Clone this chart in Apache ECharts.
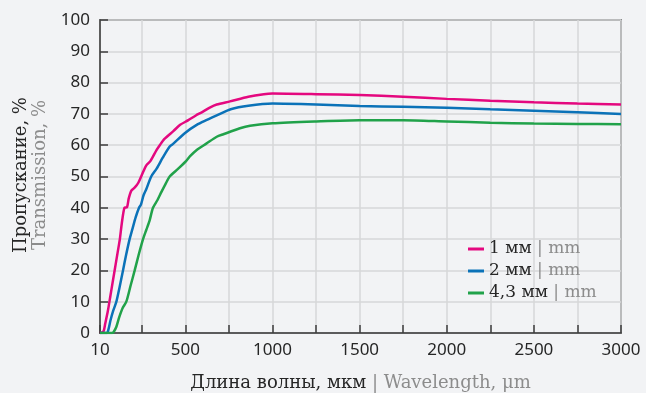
<!DOCTYPE html>
<html>
<head>
<meta charset="utf-8">
<script src="https://cdn.jsdelivr.net/npm/echarts@6/dist/echarts.min.js"></script>
<style>
  html, body { margin: 0; padding: 0; background: #f2f3f5; }
  #chart { width: 646px; height: 393px; }
</style>
</head>
<body>
<div id="chart"></div>
<script>
// Wavelength samples (µm) and transmission (%) for each plate thickness
const wl1mm = [10, 30, 40, 55, 70, 85, 100, 112, 124, 135, 150, 165, 175, 190, 210, 230, 250, 275, 300, 335, 353, 380, 431, 470, 517, 560, 594, 640, 680, 756, 861, 950, 1000, 1250, 1500, 1750, 2000, 2250, 2500, 2750, 3000];
const tr1mm = [0, 0.5, 3, 7, 12, 17, 22, 26, 30, 35, 40, 40.2, 43, 45.5, 46.5, 48, 50.5, 53.5, 55, 58.5, 60, 62, 64.5, 66.5, 68, 69.5, 70.5, 72, 73, 74, 75.5, 76.3, 76.5, 76.3, 76, 75.5, 74.8, 74.2, 73.7, 73.3, 73];

const wl2mm = [10, 50, 60, 70, 85, 104, 120, 142, 160, 180, 195, 215, 234, 245, 260, 276, 304, 335, 370, 409, 431, 500, 565, 620, 699, 760, 861, 1000, 1250, 1500, 1750, 2000, 2250, 2500, 2750, 3000];
const tr2mm = [0, 0, 1.5, 4, 7, 10, 14, 20, 25, 30, 33, 37, 40, 41, 44, 46, 50, 52.5, 56, 59.5, 60.5, 64, 66.5, 68, 70, 71.5, 72.6, 73.3, 73, 72.5, 72.3, 72, 71.5, 71, 70.5, 70];

const wl43mm = [10, 80, 90, 104, 120, 140, 161, 185, 209, 232, 257, 276, 295, 314, 340, 362, 385, 410, 459, 505, 527, 565, 620, 680, 718, 813, 871, 1000, 1250, 1500, 1750, 2000, 2250, 2500, 2750, 3000];
const tr43mm = [0, 0, 0.5, 2, 5, 8, 10, 15, 20, 25, 30, 33, 36, 40, 42.5, 45, 47.5, 50, 52.5, 55, 56.5, 58.5, 60.5, 62.7, 63.5, 65.4, 66.2, 67, 67.6, 68, 68, 67.6, 67.2, 66.9, 66.8, 66.7];

const seriesNames = ['1 мм', '2 мм', '4,3 мм'];
const seriesColors = ['#e4087f', '#0b72b8', '#21a24a'];

// Axis ticks and labels
const xLabelValues = [10, 500, 1000, 1500, 2000, 2500, 3000];
const xTickValues = [10, 250, 500, 750, 1000, 1250, 1500, 1750, 2000, 2250, 2500, 2750, 3000];

const zip = (xs, ys) => xs.map((x, i) => [x, ys[i]]);
const curves = [zip(wl1mm, tr1mm), zip(wl2mm, tr2mm), zip(wl43mm, tr43mm)];

const DARK = '#262626';
const GRAY = '#8c8c8c';
const GRID = '#d6d7d9';
const FRAME = '#3c3c3c';
const SERIF = '"DejaVu Serif", "Liberation Serif", serif';
const SANS = '"Noto Sans", "Open Sans", sans-serif';

const chart = echarts.init(document.getElementById('chart'));
chart.setOption({
  backgroundColor: '#f2f3f5',
  animation: false,
  grid: {
    left: 100, right: 25, top: 20, bottom: 60,
    show: true, borderColor: FRAME, borderWidth: 1.5, backgroundColor: 'transparent'
  },
  xAxis: {
    type: 'value', min: 10, max: 3000,
    axisLine: { show: true, lineStyle: { color: FRAME, width: 1.5 } },
    axisTick: { show: true, inside: true, length: 8, customValues: xTickValues,
                lineStyle: { color: FRAME, width: 1.5 } },
    axisLabel: { customValues: xLabelValues, margin: 9, color: DARK,
                 fontFamily: SANS, fontSize: 17, formatter: v => String(v) },
    splitLine: { show: true, lineStyle: { color: GRID, width: 1.5 } }
  },
  yAxis: {
    type: 'value', min: 0, max: 100, interval: 10,
    axisLine: { show: true, lineStyle: { color: FRAME, width: 1.5 } },
    axisTick: { show: true, inside: true, length: 8, lineStyle: { color: FRAME, width: 1.5 } },
    axisLabel: { margin: 10, color: DARK, fontFamily: SANS, fontSize: 17 },
    splitLine: { show: true, lineStyle: { color: GRID, width: 1.5 } }
  },
  legend: {
    orient: 'vertical', left: 463, top: 234,
    icon: 'rect', itemWidth: 16, itemHeight: 3, itemGap: 2,
    data: seriesNames,
    formatter: name => '{a|' + name + '}{b| | mm}',
    textStyle: {
      fontFamily: SERIF, fontSize: 17, lineHeight: 20,
      rich: {
        a: { color: DARK, fontFamily: SERIF, fontSize: 17 },
        b: { color: GRAY, fontFamily: SERIF, fontSize: 17 }
      }
    }
  },
  graphic: [
    {
      type: 'text', x: 360.5, y: 383,
      style: {
        text: '{a|Длина волны, мкм}{b| | Wavelength, μm}',
        textAlign: 'center', textVerticalAlign: 'middle',
        rich: {
          a: { fill: DARK, fontFamily: SERIF, fontSize: 18 },
          b: { fill: GRAY, fontFamily: SERIF, fontSize: 18 }
        }
      }
    },
    {
      type: 'text', x: 31, y: 175, rotation: Math.PI / 2,
      style: {
        text: '{a|Пропускание, %}\n{b|Transmission, %}',
        textAlign: 'center', textVerticalAlign: 'middle',
        rich: {
          a: { fill: DARK, fontFamily: SERIF, fontSize: 18, lineHeight: 19, align: 'center' },
          b: { fill: GRAY, fontFamily: SERIF, fontSize: 18, lineHeight: 19, align: 'center' }
        }
      }
    }
  ],
  series: curves.map((data, i) => ({
    name: seriesNames[i],
    type: 'line',
    data: data,
    showSymbol: false,
    smooth: 0.25,
    color: seriesColors[i],
    lineStyle: { color: seriesColors[i], width: 2.5 }
  }))
});
</script>
</body>
</html>
